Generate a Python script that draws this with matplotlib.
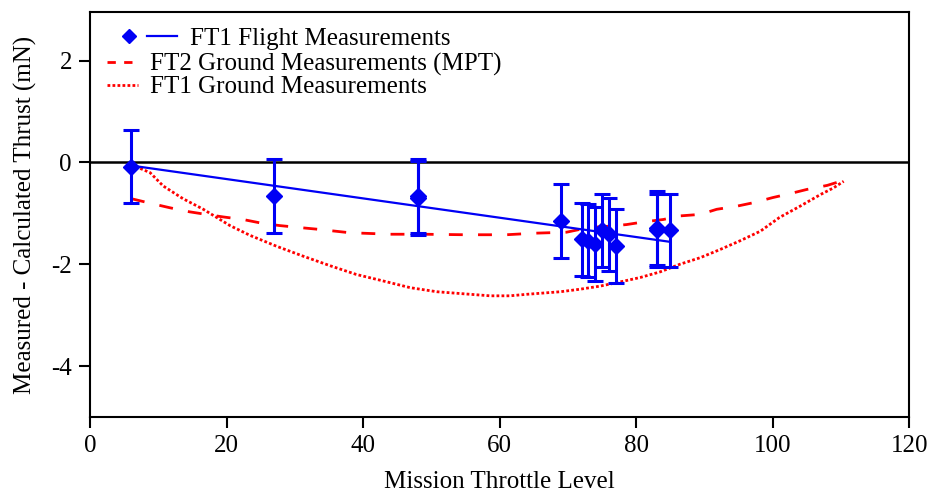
import numpy as np
import matplotlib.pyplot as plt
from matplotlib.lines import Line2D
from matplotlib.legend_handler import HandlerTuple

plt.rcParams['font.family'] = ['Liberation Serif', 'DejaVu Serif']
plt.rcParams['font.size'] = 18
plt.rcParams['axes.unicode_minus'] = False

# FT1 flight measurements (throttle level, thrust difference, error)
flight_x = [6, 27, 48, 48, 69, 72, 73, 74, 75, 76, 77, 83, 83, 85]
flight_y = [-0.08, -0.66, -0.66, -0.70, -1.15, -1.51, -1.54, -1.60,
            -1.33, -1.41, -1.64, -1.29, -1.33, -1.33]
flight_err = [0.72] * len(flight_x)

# linear fit through the flight data
fit_x = [6, 85]
fit_y = [-0.06, -1.56]

# FT2 ground measurements (MPT)
ft2_x = [6, 8.8, 11.7, 14.6, 17, 19.5, 22.4, 25.4, 27.8, 30.8, 33.2, 38, 44,
         48.8, 55, 61, 65, 69.8, 73, 76.2, 78.6, 81, 84, 86.4, 89.4, 91.8,
         94.7, 97.2, 100, 102.6, 105, 108, 110.4]
ft2_y = [-0.71, -0.80, -0.89, -0.97, -1.02, -1.07, -1.12, -1.20, -1.24, -1.28,
         -1.31, -1.38, -1.41, -1.41, -1.42, -1.42, -1.39, -1.37, -1.28, -1.25,
         -1.22, -1.17, -1.12, -1.05, -1.02, -0.92, -0.86, -0.79, -0.69, -0.61,
         -0.53, -0.45, -0.35]

# FT1 ground measurements
ft1g_x = [6, 8.8, 10.7, 13.6, 16.6, 20.5, 23.4, 27.4, 31.2, 35.2, 39, 43,
          46.9, 50.8, 54.7, 58.6, 61.5, 64, 68.9, 71.8, 74.7, 77.2, 80.6, 83.5,
          86.4, 89.4, 92.3, 95.2, 98.2, 101, 104, 107, 108.9, 110.4]
ft1g_y = [-0.04, -0.20, -0.46, -0.71, -0.92, -1.24, -1.43, -1.65, -1.84, -2.03,
          -2.20, -2.33, -2.46, -2.54, -2.58, -2.62, -2.62, -2.59, -2.54, -2.49,
          -2.43, -2.36, -2.26, -2.15, -2.00, -1.87, -1.71, -1.54, -1.35, -1.08,
          -0.86, -0.63, -0.50, -0.37]

fig = plt.figure(figsize=(9.33, 4.94), dpi=100)
ax = fig.add_axes([0.0965, 0.156, 0.878, 0.819])

blue = '#0000f5'
red = '#ff0000'
dash = (5, 5.5)
dot = (0, (1, 0.8))

ax.axhline(0, color='black', lw=1.8, zorder=1)
ax.plot(ft2_x, ft2_y, color=red, lw=2, dashes=dash, zorder=2)
ax.plot(ft1g_x, ft1g_y, color=red, lw=2, linestyle=dot, zorder=2)
ax.plot(fit_x, fit_y, color=blue, lw=1.6, zorder=3)
ax.errorbar(flight_x, flight_y, yerr=flight_err, fmt='D', color=blue,
            ms=8.5, elinewidth=2.2, capsize=5.5, capthick=2.2, zorder=4)

ax.set_xlim(0, 120)
ax.set_ylim(-5, 2.95)
ax.set_xticks(np.arange(0, 121, 20))
ax.set_yticks([-4, -2, 0, 2])
ax.tick_params(direction='out', length=8, width=1.5, labelsize=18, pad=5)
for s in ax.spines.values():
    s.set_linewidth(1.5)

ax.set_xlabel('Mission Throttle Level', fontsize=18, labelpad=10)
ax.set_ylabel('Measured - Calculated Thrust (mN)', fontsize=18, labelpad=10)

# legend: first entry has marker and line side by side
h_mark = Line2D([], [], marker='D', color=blue, ls='none', ms=7)
h_line = Line2D([], [], color=blue, lw=1.6)
leg1 = ax.legend([(h_mark, h_line)], ['FT1 Flight Measurements'],
                 handler_map={tuple: HandlerTuple(ndivide=None, pad=0.12)},
                 loc='upper left', bbox_to_anchor=(0.017, 0.988), frameon=False,
                 handlelength=2.52, handletextpad=0.52, fontsize=18,
                 borderaxespad=0)
ax.add_artist(leg1)
h_ft2 = Line2D([], [], color=red, lw=2, dashes=(3, 3))
h_ft1g = Line2D([], [], color=red, lw=2, linestyle=dot)
ax.legend([h_ft2, h_ft1g],
          ['FT2 Ground Measurements (MPT)', 'FT1 Ground Measurements'],
          loc='upper left', bbox_to_anchor=(0.0085, 0.925), frameon=False,
          handlelength=1.24, handletextpad=0.48, fontsize=18,
          labelspacing=0.0, borderaxespad=0)

fig.savefig('out.png', dpi=100)
